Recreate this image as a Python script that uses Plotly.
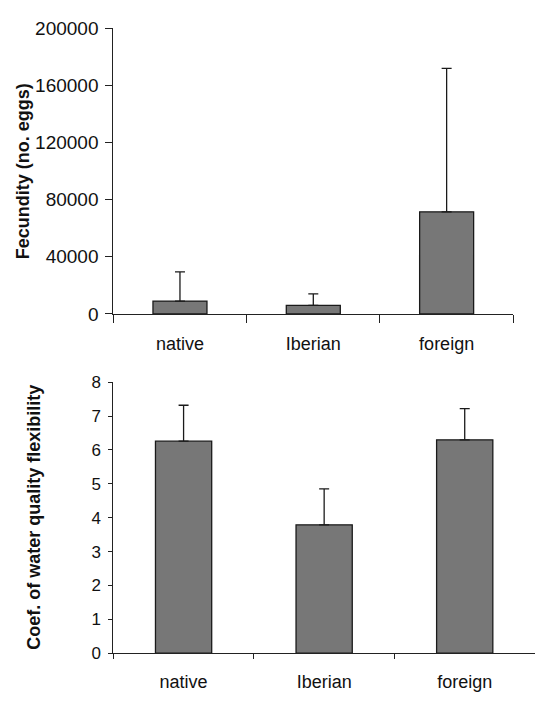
import plotly.graph_objects as go

categories = ["native", "Iberian", "foreign"]
fecundity = [9000, 6000, 71500]
fecundity_err = [20500, 8000, 100500]
flexibility = [6.26, 3.79, 6.30]
flexibility_err = [1.06, 1.06, 0.92]

W, H = 535, 702
fig = go.Figure()

bar_fill = "#777777"
edge = "#1a1a1a"

fig.add_trace(go.Bar(
    x=categories, y=fecundity, xaxis="x", yaxis="y", width=0.405,
    marker=dict(color=bar_fill, line=dict(color=edge, width=1.3)),
    error_y=dict(type="data", array=fecundity_err, arrayminus=[0, 0, 0], symmetric=False,
                 color=edge, thickness=1.3, width=5),
    showlegend=False))
fig.add_trace(go.Bar(
    x=categories, y=flexibility, xaxis="x2", yaxis="y2", width=0.40,
    marker=dict(color=bar_fill, line=dict(color=edge, width=1.3)),
    error_y=dict(type="data", array=flexibility_err, arrayminus=[0, 0, 0], symmetric=False,
                 color=edge, thickness=1.3, width=5),
    showlegend=False))

fam = "Liberation Sans, Arial, sans-serif"
txt = "#111111"
axcol = "#222222"

top_x = [113.3 / W, 513.3 / W]
top_y = [1 - 313.3 / H, 1 - 19 / H]
bot_x = [113.3 / W, 1.0]
bot_y = [1 - 663 / H, 1 - 383.7 / H]

common_x = dict(type="category", showline=True, linecolor=axcol, linewidth=1, ticks="outside",
                tickson="boundaries", tickcolor=axcol, tickwidth=1, showgrid=False,
                zeroline=False, tickfont=dict(family=fam, size=18, color=txt),
                range=[-0.5, 2.5], fixedrange=True)
fig.update_layout(
    width=W, height=H, margin=dict(l=0, r=0, t=0, b=0),
    paper_bgcolor="white", plot_bgcolor="white", font=dict(family=fam, size=17, color=txt),
    xaxis=dict(domain=top_x, anchor="y", ticklen=8, ticklabelstandoff=13, **common_x),
    yaxis=dict(domain=top_y, anchor="x", range=[0, 200000], dtick=40000, tickformat="d",
               showline=True, linecolor=axcol, linewidth=1, ticks="outside", ticklen=7,
               tickcolor=axcol, showgrid=False, zeroline=False,
               tickfont=dict(family=fam, size=19, color=txt), ticklabelstandoff=3),
    xaxis2=dict(domain=bot_x, anchor="y2", ticklen=5, ticklabelstandoff=12, **common_x),
    yaxis2=dict(domain=bot_y, anchor="x2", range=[0, 8], dtick=1,
                showline=True, linecolor=axcol, linewidth=1, ticks="outside", ticklen=4,
                tickcolor=axcol, showgrid=False, zeroline=False,
                tickfont=dict(family=fam, size=17, color=txt), ticklabelstandoff=4),
    annotations=[
        dict(text="<b>Fecundity (no. eggs)</b>", textangle=-90, xref="paper", yref="paper",
             x=23 / W, y=(top_y[0] + top_y[1]) / 2, xanchor="center", yanchor="middle",
             showarrow=False, font=dict(family=fam, size=18, color=txt)),
        dict(text="<b>Coef. of water quality flexibility</b>", textangle=-90, xref="paper", yref="paper",
             x=34 / W, y=(bot_y[0] + bot_y[1]) / 2, xanchor="center", yanchor="middle",
             showarrow=False, font=dict(family=fam, size=18, color=txt)),
    ],
)

fig.write_html("out.html", config={"displayModeBar": False},
               post_script="document.body.style.margin='0';document.body.style.overflow='hidden';")
